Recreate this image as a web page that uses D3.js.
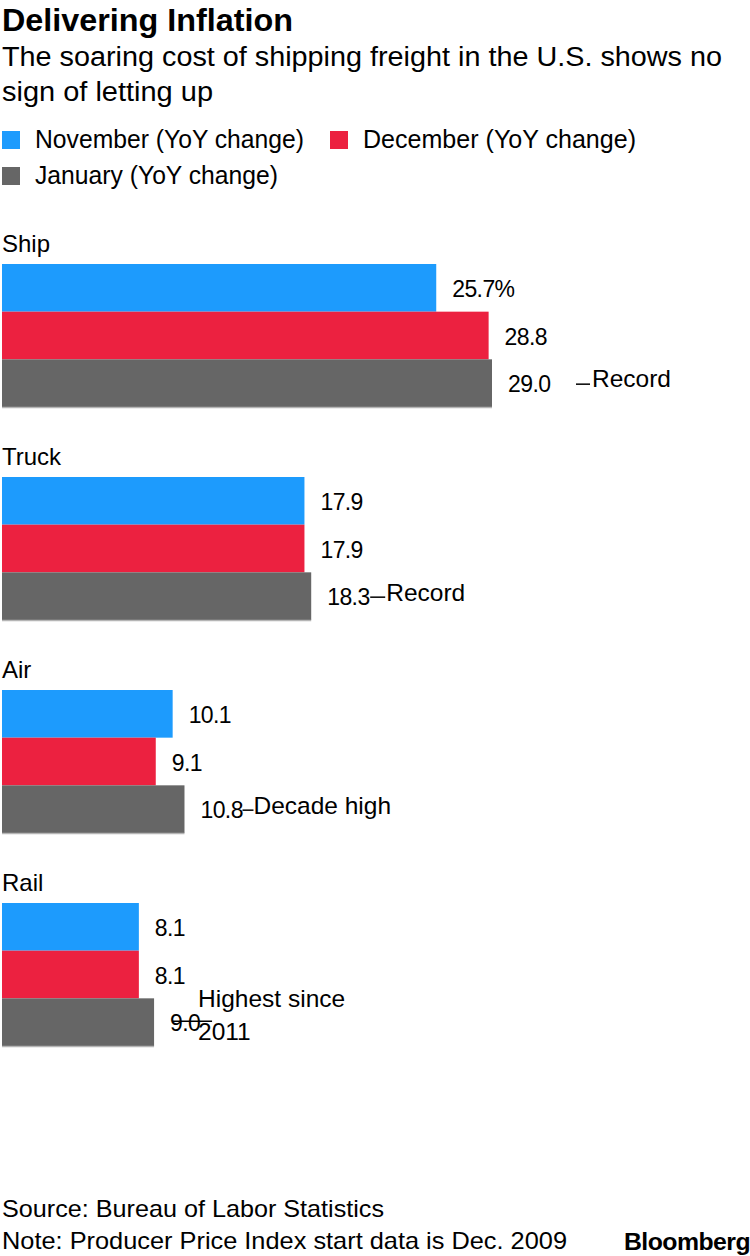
<!DOCTYPE html>
<html>
<head>
<meta charset="utf-8">
<script src="https://cdn.jsdelivr.net/npm/d3@7/dist/d3.min.js"></script>
<style>
  html, body { margin: 0; padding: 0; background: #fff; }
  svg { display: block; }
  text { font-family: "Liberation Sans", Arial, sans-serif; fill: #000; }
</style>
</head>
<body>
<script>
// ---- data ----
const categories = ["Ship", "Truck", "Air", "Rail"];
const seriesNames = ["November (YoY change)", "December (YoY change)", "January (YoY change)"];
const november = [25.7, 17.9, 10.1, 8.1];
const december = [28.8, 17.9, 9.1, 8.1];
const january = [29.0, 18.3, 10.8, 9.0];
const annotations = [["Record"], ["Record"], ["Decade high"], ["Highest since", "2011"]];

const title = "Delivering Inflation";
const subtitleLines = ["The soaring cost of shipping freight in the U.S. shows no", "sign of letting up"];
const footerLines = ["Source: Bureau of Labor Statistics", "Note: Producer Price Index start data is Dec. 2009"];

// ---- layout / style ----
const W = 750, H = 1256;
const colors = ["#1d9bfd", "#ec2140", "#666666"];
const seriesValues = [november, december, january];

const svg = d3.select("body").append("svg").attr("width", W).attr("height", H);
svg.append("rect").attr("width", W).attr("height", H).attr("fill", "#fff");

function fit(sel, len) {
  return sel.attr("textLength", len).attr("lengthAdjust", "spacingAndGlyphs");
}

// Title & subtitle
fit(svg.append("text").attr("x", 2).attr("y", 31).attr("font-size", 32).attr("font-weight", "bold").text(title), 291);
const subW = [720, 211];
subtitleLines.forEach((l, i) => {
  fit(svg.append("text").attr("x", 2).attr("y", 66 + i * 34.5).attr("font-size", 27).text(l), subW[i]);
});

// Legend
const legendPos = [{x: 2, y: 131, w: 269}, {x: 330, y: 131, w: 273}, {x: 2, y: 167, w: 243}];
seriesNames.forEach((s, i) => {
  const p = legendPos[i];
  svg.append("rect").attr("x", p.x).attr("y", p.y).attr("width", 18).attr("height", 18).attr("fill", colors[i]);
  fit(svg.append("text").attr("x", p.x + 33).attr("y", p.y + 17).attr("font-size", 25).text(s), p.w);
});

// Scales
const x = d3.scaleLinear().domain([0, 29.0]).range([2, 492]);
const y0 = d3.scaleBand().domain(categories).range([264, 1046]).paddingInner(70 / 213).paddingOuter(0);
const y1 = d3.scaleBand().domain(d3.range(3)).range([0, y0.bandwidth()]).padding(0);

const groups = svg.selectAll("g.cat").data(categories).join("g")
  .attr("class", "cat")
  .attr("transform", d => `translate(0,${y0(d)})`);

// category labels
groups.append("text").attr("x", 2).attr("y", -12).attr("font-size", 24).text(d => d);

categories.forEach((c, ci) => {
  const g = groups.filter(d => d === c);
  seriesValues.forEach((vals, si) => {
    const v = vals[ci];
    g.append("rect")
      .attr("x", x(0)).attr("y", y1(si))
      .attr("width", x(v) - x(0)).attr("height", y1.bandwidth())
      .attr("fill", colors[si]);
    g.append("text")
      .attr("x", x(v) + 16)
      .attr("y", y1(si) + y1.bandwidth() / 2 + 9)
      .attr("font-size", 23)
      .attr("letter-spacing", -0.6)
      .text(d3.format(".1f")(v) + (ci === 0 && si === 0 ? "%" : ""));
  });
  // light line under last bar
  g.append("line")
    .attr("x1", x(0)).attr("x2", x(january[ci]))
    .attr("y1", y0.bandwidth() + 0.5).attr("y2", y0.bandwidth() + 0.5)
    .attr("stroke", "#b5b5b5").attr("stroke-width", 1.5);
});

// Annotations for January values
const annDash = [{x1: 84, x2: 98, dy: 0}, {x1: 59, x2: 74, dy: 0}, {x1: 58, x2: 69, dy: 0}, {x1: 18, x2: 58, dy: -2}];
const annText = [{dx: 100, dy: 4}, {dx: 75, dy: 5}, {dx: 69, dy: 5}, {dx: 44, dy: -15}];
categories.forEach((c, ci) => {
  const g = groups.filter(d => d === c);
  const xe = x(january[ci]);
  const cy = y1(2) + y1.bandwidth() / 2;
  const dsh = annDash[ci], at = annText[ci];
  g.append("line")
    .attr("x1", xe + dsh.x1).attr("x2", xe + dsh.x2)
    .attr("y1", cy + 1 + dsh.dy).attr("y2", cy + 1 + dsh.dy)
    .attr("stroke", "#000").attr("stroke-width", 1.5);
  annotations[ci].forEach((line, li) => {
    g.append("text")
      .attr("x", xe + at.dx)
      .attr("y", cy + at.dy + li * 33)
      .attr("font-size", 24.5)
      .text(line);
  });
});

// Footer
const footW = [382, 565];
footerLines.forEach((l, i) => {
  fit(svg.append("text").attr("x", 2).attr("y", 1217 + i * 32).attr("font-size", 24).text(l), footW[i]);
});
fit(svg.append("text").attr("x", 624).attr("y", 1250).attr("font-size", 23).attr("font-weight", "bold")
  .attr("letter-spacing", -0.5).text("Bloomberg"), 126);
</script>
</body>
</html>
